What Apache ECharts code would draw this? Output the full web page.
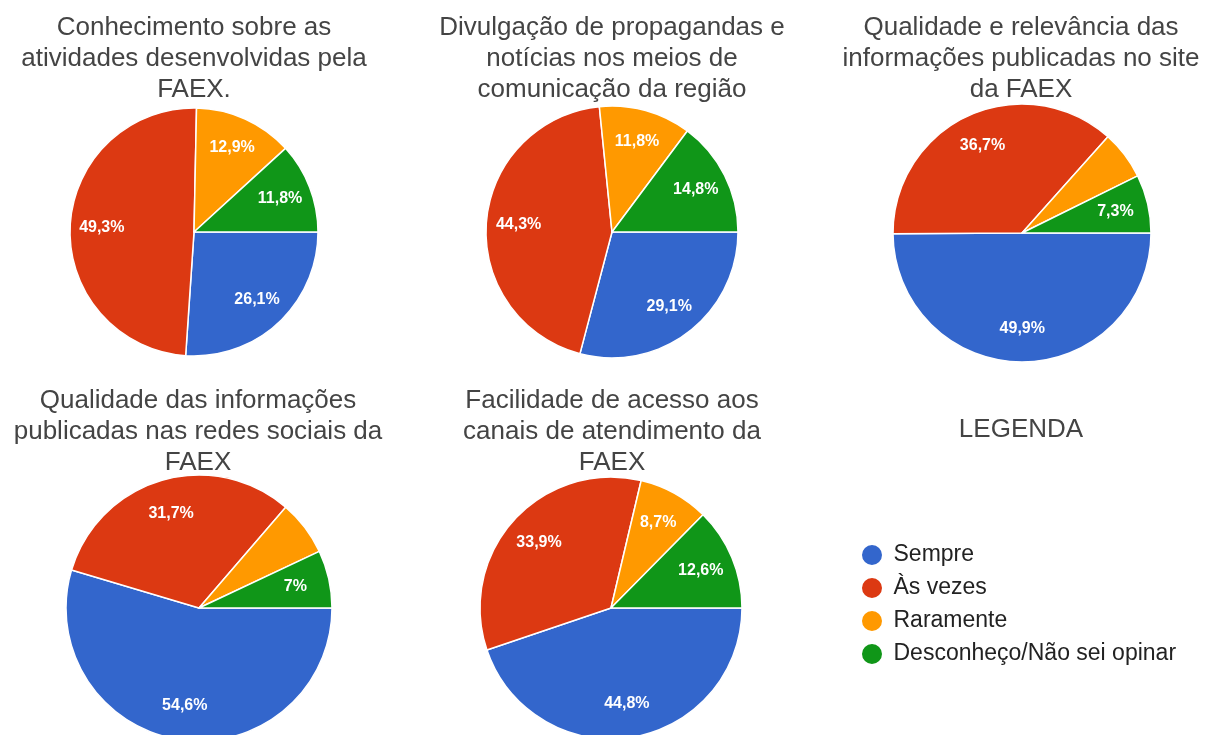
<!DOCTYPE html>
<html>
<head>
<meta charset="utf-8">
<script src="https://cdn.jsdelivr.net/npm/echarts@6/dist/echarts.min.js"></script>
<style>
  html, body { margin: 0; padding: 0; background: #fff; }
  #chart { width: 1205px; height: 735px; }
</style>
</head>
<body>
<div id="chart"></div>
<script>
// ---- data ----
const categories = ['Sempre', 'Às vezes', 'Raramente', 'Desconheço/Não sei opinar'];
const chartTitles = [
  'Conhecimento sobre as\natividades desenvolvidas pela\nFAEX.',
  'Divulgação de propagandas e\nnotícias nos meios de\ncomunicação da região',
  'Qualidade e relevância das\ninformações publicadas no site\nda FAEX',
  'Qualidade das informações\npublicadas nas redes sociais da\nFAEX',
  'Facilidade de acesso aos\ncanais de atendimento da\nFAEX'
];
const legendTitle = 'LEGENDA';
const valuesConhecimento = [26.1, 49.3, 12.9, 11.8];
const valuesDivulgacao   = [29.1, 44.3, 11.8, 14.8];
const valuesSite         = [49.9, 36.7, 6.1, 7.3];
const valuesRedes        = [54.6, 31.7, 6.7, 7.0];
const valuesAcesso       = [44.8, 33.9, 8.7, 12.6];
const allValues = [valuesConhecimento, valuesDivulgacao, valuesSite, valuesRedes, valuesAcesso];

// ---- layout & style ----
const palette = ['#3366cc', '#dc3912', '#ff9900', '#109618'];
const layout = [
  { cx: 194, cy: 232, r: 124, tx: 194, ty: 12 },
  { cx: 612, cy: 232, r: 126, tx: 612, ty: 12 },
  { cx: 1022, cy: 233, r: 129, tx: 1021, ty: 12 },
  { cx: 199, cy: 608, r: 133, tx: 198, ty: 385 },
  { cx: 611, cy: 608, r: 131, tx: 612, ty: 385 }
];
const FONT = "'Liberation Sans', Arial, sans-serif";
const labelMin = 7;

const fmt = v => String(v).replace('.', ',') + '%';

const titles = chartTitles.map((t, i) => ({
  text: t, left: layout[i].tx, top: layout[i].ty, textAlign: 'center', padding: 0,
  textStyle: { fontFamily: FONT, fontSize: 26, fontWeight: 'normal', color: '#444', lineHeight: 31 }
}));
titles.push({
  text: legendTitle, left: 1021, top: 414, textAlign: 'center', padding: 0,
  textStyle: { fontFamily: FONT, fontSize: 26, fontWeight: 'normal', color: '#444', lineHeight: 31 }
});

const series = [];
allValues.forEach((vals, i) => {
  const L = layout[i];
  series.push({
    type: 'pie', center: [L.cx, L.cy], radius: [0, L.r], startAngle: 0, clockwise: true,
    animation: false, silent: true, label: { show: false }, labelLine: { show: false },
    itemStyle: { borderColor: '#fff', borderWidth: 1.5 },
    data: vals.map((v, k) => ({ name: categories[k], value: v, itemStyle: { color: palette[k] } }))
  });
});
allValues.forEach((vals, i) => {
  const L = layout[i];
  series.push({
    type: 'pie', center: [L.cx, L.cy], radius: [L.r * 0.44, L.r], startAngle: 0, clockwise: true,
    animation: false, silent: true, legendHoverLink: false, labelLine: { show: false },
    itemStyle: { color: 'rgba(0,0,0,0)', borderWidth: 0 },
    label: { show: true, position: 'inside', color: '#fff', fontFamily: FONT, fontSize: 16, fontWeight: 'bold',
             formatter: p => fmt(p.value) },
    data: vals.map((v, k) => ({ name: categories[k], value: v, label: { show: v >= labelMin } }))
  });
});

const chart = echarts.init(document.getElementById('chart'), null, { renderer: 'canvas' });
chart.setOption({
  backgroundColor: '#fff',
  animation: false,
  color: palette,
  title: titles,
  legend: {
    orient: 'vertical', left: 860, top: 543, padding: 0, itemGap: 9,
    itemWidth: 23, itemHeight: 22, icon: 'circle', selectedMode: false,
    textStyle: { fontFamily: FONT, fontSize: 23, color: '#222', padding: [0, 0, 0, 5] },
    data: categories.map((c, k) => ({ name: c, itemStyle: { color: palette[k] } }))
  },
  series: series
});
</script>
</body>
</html>
